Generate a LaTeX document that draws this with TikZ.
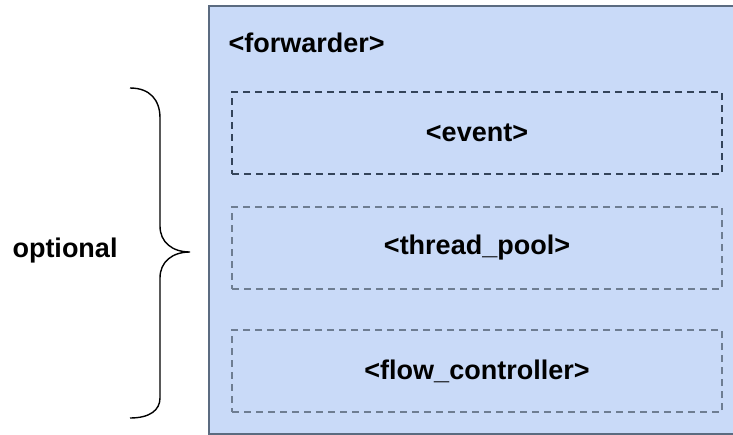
\documentclass[tikz,border=0pt]{standalone}
\usepackage{fontspec}
\setmainfont{Liberation Sans}
\definecolor{boxblue}{HTML}{C9DAF8}
\definecolor{boxline}{HTML}{5B6B80}
\definecolor{darkdash}{HTML}{34445A}
\definecolor{greydash}{HTML}{6E7D92}
\tikzset{
  label text/.style={font=\bfseries\fontsize{27}{32}\selectfont},
  part/.style={draw=greydash, dash pattern=on 7pt off 5pt, line width=1.4pt,
    minimum width=490pt, minimum height=82pt, label text},
}
\begin{document}
\begin{tikzpicture}[x=1pt, y=-1pt]
\useasboundingbox (0,0) rectangle (733,434);
\clip (0,0) rectangle (733,434);
\node (fwd) [draw=boxline, fill=boxblue, line width=1.5pt, anchor=north west,
  minimum width=540pt, minimum height=428pt] at (208,5) {};
\node (fwdlabel) [anchor=west, label text] at (225,43) {<forwarder>};

\node (event) [part, draw=darkdash] at (477,133) {<event>};
\node (pool) [part] at (477,248) {<thread\_pool>};
\node (flow) [part] at (477,371) {<flow\_controller>};

% brace
\coordinate (tip) at (190,252);
\draw [line width=1.4pt] (130,88) .. controls (150,88) and (160,100) .. (160,118) -- (160,226)
  .. controls (160,242) and (172,252) .. (tip)
  .. controls (172,252) and (160,262) .. (160,278) -- (160,398)
  .. controls (160,410) and (150,418) .. (130,418);
\node (opt) [label text] at (65,251) {optional};
\end{tikzpicture}
\end{document}
